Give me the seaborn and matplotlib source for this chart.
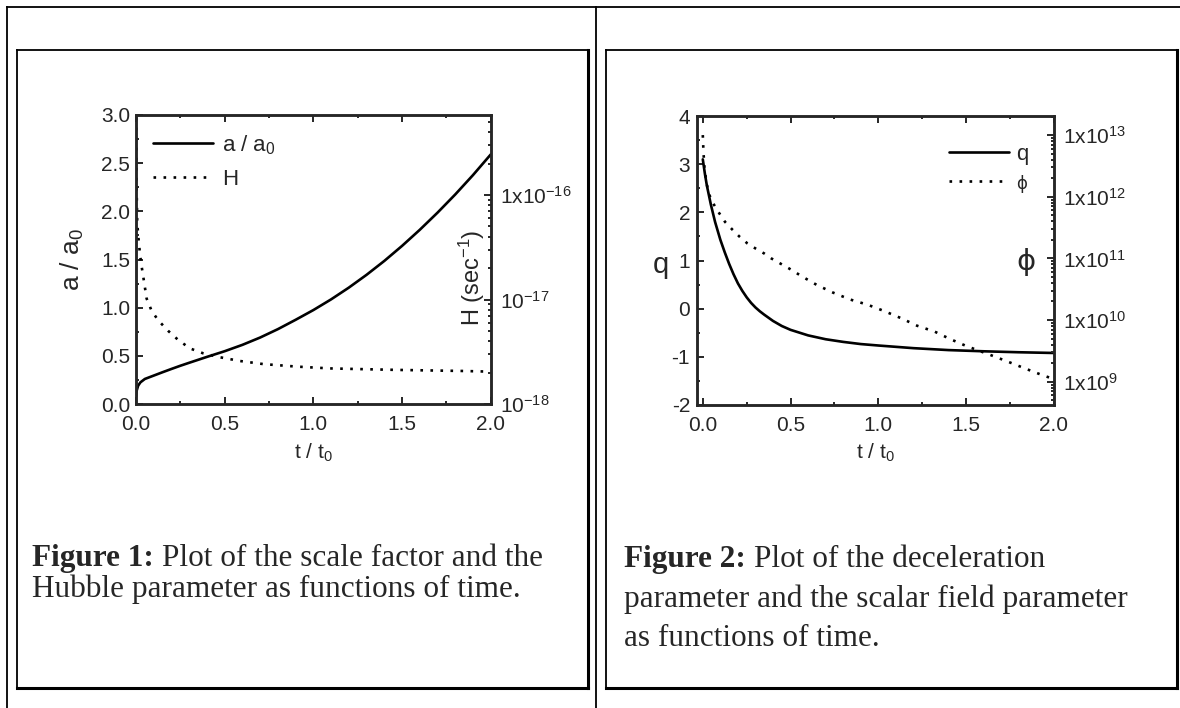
import matplotlib
matplotlib.use("Agg")
import matplotlib.pyplot as plt
from matplotlib.lines import Line2D
from matplotlib.ticker import MultipleLocator, LogLocator, NullFormatter
import seaborn as sns

# -----------------------------------
# DATA
# -----------------------------------

# Figure 1: scale factor a/a0 (left axis) and Hubble parameter H (right, log)
t_scale = [0.0, 0.004, 0.012, 0.025, 0.05, 0.1, 0.15, 0.2, 0.25, 0.3, 0.4, 0.5,
           0.6, 0.7, 0.8, 0.9, 1.0, 1.1, 1.2, 1.3, 1.4, 1.5, 1.6, 1.7, 1.8, 1.9, 2.0]
scale_factor = [0.08, 0.14, 0.19, 0.225, 0.26, 0.295, 0.33, 0.364, 0.397, 0.428, 0.489,
                0.548, 0.614, 0.69, 0.777, 0.874, 0.975, 1.086, 1.208, 1.341, 1.485,
                1.641, 1.808, 1.986, 2.175, 2.376, 2.59]

t_hubble = [0.001, 0.003, 0.007, 0.013, 0.023, 0.032, 0.041, 0.06, 0.088, 0.126, 0.182,
            0.238, 0.305, 0.38, 0.474, 0.586, 0.718, 0.906, 1.094, 1.47, 1.846, 2.0]
hubble = [5.5e-16, 1.3e-16, 5.4e-17, 4.0e-17, 2.67e-17, 2.06e-17, 1.65e-17, 1.02e-17,
          7.8e-18, 6.3e-18, 5.0e-18, 4.1e-18, 3.4e-18, 3.05e-18, 2.8e-18, 2.58e-18,
          2.41e-18, 2.28e-18, 2.19e-18, 2.12e-18, 2.07e-18, 2.04e-18]

# Figure 2: deceleration parameter q (left axis) and scalar field phi (right, log)
t_q = [0.0, 0.012, 0.023, 0.046, 0.07, 0.1, 0.125, 0.15, 0.175, 0.2, 0.225, 0.25,
       0.275, 0.3, 0.325, 0.35, 0.4, 0.45, 0.5, 0.6, 0.7, 0.8, 0.9, 1.0, 1.2, 1.4,
       1.6, 1.8, 2.0]
q_decel = [3.1, 2.8, 2.56, 2.16, 1.8, 1.43, 1.17, 0.93, 0.715, 0.525, 0.37, 0.235,
           0.12, 0.025, -0.055, -0.125, -0.255, -0.36, -0.44, -0.555, -0.635, -0.69,
           -0.735, -0.765, -0.82, -0.86, -0.885, -0.905, -0.92]

t_phi = [0.0, 0.004, 0.01, 0.02, 0.032, 0.064, 0.09, 0.127, 0.17, 0.21, 0.255, 0.3,
         0.35, 0.39, 0.44, 0.49, 0.57, 0.65, 0.74, 0.84, 0.937, 1.03, 1.13, 1.22,
         1.32, 1.41, 1.5, 1.64, 1.74, 1.83, 1.93, 2.0]
phi_field = [1.0e13, 5.2e12, 2.8e12, 1.8e12, 1.15e12, 7.4e11, 5.6e11, 3.9e11, 2.9e11,
             2.24e11, 1.74e11, 1.45e11, 1.2e11, 1.0e11, 8.3e10, 6.9e10, 5.0e10, 3.7e10,
             2.8e10, 2.15e10, 1.78e10, 1.41e10, 1.07e10, 8.1e9, 6.5e9, 4.9e9, 3.8e9,
             2.7e9, 2.1e9, 1.66e9, 1.29e9, 1.1e9]

# tick values and labels
t_ticks = [0.0, 0.5, 1.0, 1.5, 2.0]
t_tick_labels = ["0.0", "0.5", "1.0", "1.5", "2.0"]
a_ticks = [0.0, 0.5, 1.0, 1.5, 2.0, 2.5, 3.0]
a_tick_labels = ["0.0", "0.5", "1.0", "1.5", "2.0", "2.5", "3.0"]
h_ticks = [1e-18, 1e-17, 1e-16]
h_tick_labels = [r"$\mathrm{10^{-18}}$", r"$\mathrm{10^{-17}}$", r"$\mathrm{1x10^{-16}}$"]
q_ticks = [-2, -1, 0, 1, 2, 3, 4]
q_tick_labels = ["-2", "-1", "0", "1", "2", "3", "4"]
phi_ticks = [1e9, 1e10, 1e11, 1e12, 1e13]
phi_tick_labels = [r"$\mathrm{1x10^{9}}$", r"$\mathrm{1x10^{10}}$", r"$\mathrm{1x10^{11}}$",
                   r"$\mathrm{1x10^{12}}$", r"$\mathrm{1x10^{13}}$"]

# captions
caption1_bold = "Figure 1:"
caption1_lines = ["Plot of the scale factor and the",
                  "Hubble parameter as functions of time."]
caption2_bold = "Figure 2:"
caption2_lines = ["Plot of the deceleration",
                  "parameter and the scalar field parameter",
                  "as functions of time."]

# -----------------------------------
# STYLE
# -----------------------------------

sns.set_style("ticks")
plt.rcParams["font.family"] = ["Liberation Sans", "DejaVu Sans"]
plt.rcParams["axes.unicode_minus"] = False
plt.rcParams["mathtext.fontset"] = "custom"
plt.rcParams["mathtext.rm"] = "Liberation Sans"
plt.rcParams["mathtext.it"] = "Liberation Sans:italic"
plt.rcParams["mathtext.bf"] = "Liberation Sans:bold"

W, H = 1180, 708
fig = plt.figure(figsize=(W / 100, H / 100), dpi=100)
fig.patch.set_facecolor("white")


def px_rect(x0, y0, x1, y1):
    # pixel box (origin top-left) -> figure fraction rect
    return [x0 / W, 1 - y1 / H, (x1 - x0) / W, (y1 - y0) / H]


def hline(x0, x1, y, lw=1.3):
    fig.add_artist(Line2D([x0 / W, x1 / W], [1 - y / H, 1 - y / H],
                          color="black", lw=lw, solid_capstyle="projecting"))


def vline(x, y0, y1, lw=1.3):
    fig.add_artist(Line2D([x / W, x / W], [1 - y0 / H, 1 - y1 / H],
                          color="black", lw=lw, solid_capstyle="projecting"))


# table lines
hline(7, 1180, 7)
vline(7, 7, 708)
vline(596, 7, 708)

# caption boxes
for bx0, bx1 in [(17, 588), (606, 1177)]:
    hline(bx0, bx1, 50)
    vline(bx0, 50, 688)
    hline(bx0, bx1, 688, lw=2.2)
    vline(bx1, 50, 688, lw=2.2)

line_w = 1.9
dots = (0, (1, 2.8))
spine_w = 1.8
tick_size = 15


def style_axes(ax, ax_log, lab_pad_left):
    for a in (ax, ax_log):
        for s in a.spines.values():
            s.set_linewidth(spine_w)
    ax.tick_params(which="both", direction="in", top=True, right=False, width=1.4,
                   labelsize=tick_size)
    ax.tick_params(which="major", length=5)
    ax.tick_params(which="minor", length=2.5)
    ax.tick_params(axis="x", which="both", pad=8)
    ax.tick_params(axis="y", which="both", pad=lab_pad_left)
    ax_log.tick_params(which="both", direction="in", right=True, left=False, width=1.4,
                       labelsize=tick_size, pad=6.5)
    ax_log.tick_params(which="major", length=5)
    ax_log.tick_params(which="minor", length=2.5)
    ax_log.yaxis.set_minor_locator(LogLocator(base=10, subs=range(2, 10), numticks=50))
    ax_log.yaxis.set_minor_formatter(NullFormatter())


# -----------------------------------
# FIGURE 1 PANEL
# -----------------------------------

ax1 = fig.add_axes(px_rect(136, 115, 490.7, 404))
ax2 = ax1.twinx()
ax2.set_yscale("log")

sns.lineplot(x=t_scale, y=scale_factor, ax=ax1, color="black", lw=line_w,
             sort=False, legend=False)
sns.lineplot(x=t_hubble, y=hubble, ax=ax2, color="black", lw=line_w,
             linestyle=dots, sort=False, legend=False)

ax1.set_xlim(0, 2)
ax1.set_ylim(0, 3)
ax1.set_xticks(t_ticks, labels=t_tick_labels)
ax1.set_yticks(a_ticks, labels=a_tick_labels)
ax1.xaxis.set_minor_locator(MultipleLocator(0.25))
ax1.yaxis.set_minor_locator(MultipleLocator(0.25))
ax2.set_ylim(1e-18, 5.83e-16)
ax2.set_yticks(h_ticks, labels=h_tick_labels)
style_axes(ax1, ax2, 4.3)

ax1.text((72 - 136) / 354.7, 0.5, "a / a$_0$", rotation=90, ha="center", va="center",
         fontsize=19, transform=ax1.transAxes)
ax1.text(0.5, -(453 - 404) / 289, "t / t$_0$", ha="center", va="center",
         fontsize=15, transform=ax1.transAxes)
ax2.text(0.946, 0.436, "H (sec$^{-1}$)", rotation=90, ha="center", va="center",
         fontsize=17, transform=ax2.transAxes)

leg1 = ax2.legend([ax1.get_lines()[0], ax2.get_lines()[0]], ["a / a$_0$", "H"],
                  loc="upper left", bbox_to_anchor=(0.048, 0.938), frameon=False,
                  fontsize=16, handlelength=2.7, handletextpad=0.4, labelspacing=0.57,
                  borderpad=0, borderaxespad=0)

# -----------------------------------
# FIGURE 2 PANEL
# -----------------------------------

ax3 = fig.add_axes(px_rect(697, 116, 1054, 405))
ax4 = ax3.twinx()
ax4.set_yscale("log")

sns.lineplot(x=t_q, y=q_decel, ax=ax3, color="black", lw=line_w,
             sort=False, legend=False)
sns.lineplot(x=t_phi, y=phi_field, ax=ax4, color="black", lw=line_w,
             linestyle=dots, sort=False, legend=False)

ax3.set_xlim(-0.033, 2.0)
ax3.set_ylim(-2, 4)
ax3.set_xticks(t_ticks, labels=t_tick_labels)
ax3.set_yticks(q_ticks, labels=q_tick_labels)
ax3.xaxis.set_minor_locator(MultipleLocator(0.25))
ax3.yaxis.set_minor_locator(MultipleLocator(0.5))
ax4.set_ylim(4.19e8, 2.04e13)
ax4.set_yticks(phi_ticks, labels=phi_tick_labels)
style_axes(ax3, ax4, 5)

ax3.text(-0.101, 0.484, "q", ha="center", va="center", fontsize=21,
         transform=ax3.transAxes)
ax3.text(0.5, -(453 - 405) / 289, "t / t$_0$", ha="center", va="center",
         fontsize=15, transform=ax3.transAxes)
ax4.text(0.9216, 0.495, "ϕ", ha="center", va="center", fontsize=21,
         family=["DejaVu Sans"], transform=ax4.transAxes)

leg2 = ax4.legend([ax3.get_lines()[0], ax4.get_lines()[0]], ["q", "ϕ"],
                  loc="upper right", bbox_to_anchor=(0.927, 0.903), frameon=False,
                  fontsize=16, handlelength=2.7, handletextpad=0.3, labelspacing=0.39,
                  borderpad=0, borderaxespad=0)
leg2.get_texts()[1].set_fontsize(12)
leg2.get_texts()[1].set_family(["DejaVu Sans"])

# -----------------------------------
# CAPTIONS
# -----------------------------------

renderer = fig.canvas.get_renderer()
cap_size = 22.5
space_px = 0.25 * cap_size * 100 / 72


def caption(x, baselines, bold, lines):
    t = fig.text(x / W, 1 - baselines[0] / H, bold, fontsize=cap_size,
                 family="Liberation Serif", fontweight="bold", va="baseline")
    bb = t.get_window_extent(renderer)
    fig.text((bb.x1 + space_px) / W, 1 - baselines[0] / H, lines[0], fontsize=cap_size,
             family="Liberation Serif", va="baseline")
    for yb, txt in zip(baselines[1:], lines[1:]):
        fig.text(x / W, 1 - yb / H, txt, fontsize=cap_size,
                 family="Liberation Serif", va="baseline")


caption(32, [566, 597], caption1_bold, caption1_lines)
caption(624, [567, 607, 646], caption2_bold, caption2_lines)

fig.savefig("out.png", dpi=100, facecolor="white")
